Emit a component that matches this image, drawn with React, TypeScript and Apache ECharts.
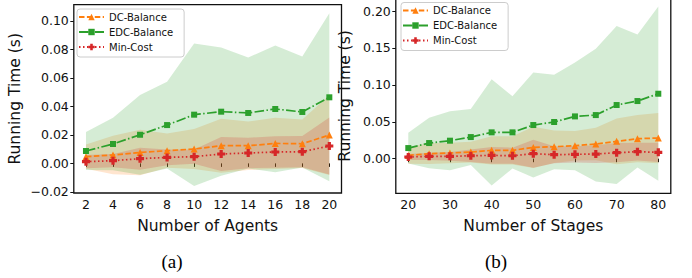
import React, { useEffect, useRef } from "react";
import * as echarts from "echarts";

// ---- data (a): Number of Agents ----
const agents = [2, 4, 6, 8, 10, 12, 14, 16, 18, 20];
const dcAgents = [0.0047, 0.0059, 0.0077, 0.0089, 0.0101, 0.0124, 0.0124, 0.014, 0.0138, 0.0199];
const dcAgentsStd = [0.0085, 0.0135, 0.016, 0.012, 0.014, 0.019, 0.017, 0.018, 0.017, 0.028];
const edcAgents = [0.0087, 0.0136, 0.0201, 0.0269, 0.0342, 0.0363, 0.0354, 0.0382, 0.0361, 0.0464];
const edcAgentsStd = [0.0134, 0.0184, 0.028, 0.0305, 0.05, 0.045, 0.039, 0.0445, 0.039, 0.059];
const mcAgents = [0.0012, 0.0019, 0.0033, 0.0042, 0.0047, 0.0066, 0.0073, 0.008, 0.0082, 0.0122];
const mcAgentsStd = [0.0047, 0.0047, 0.0077, 0.0056, 0.005, 0.012, 0.0107, 0.011, 0.011, 0.02];
const xTicksA = [2, 4, 6, 8, 10, 12, 14, 16, 18, 20];
const yTicksA = [-0.02, 0, 0.02, 0.04, 0.06, 0.08, 0.1];

// ---- data (b): Number of Stages ----
const stages = [20, 25, 30, 35, 40, 45, 50, 55, 60, 65, 70, 75, 80];
const dcStages = [0.0045, 0.0068, 0.0077, 0.009, 0.0113, 0.0113, 0.0153, 0.0163, 0.0176, 0.0199, 0.0235, 0.0271, 0.028];
const dcStagesStd = [0.0115, 0.014, 0.014, 0.014, 0.019, 0.019, 0.028, 0.022, 0.02, 0.022, 0.031, 0.032, 0.034];
const edcStages = [0.0144, 0.0212, 0.0244, 0.0293, 0.0357, 0.0357, 0.0456, 0.0497, 0.0573, 0.0591, 0.0727, 0.0781, 0.088];
const edcStagesStd = [0.0208, 0.0343, 0.04, 0.038, 0.072, 0.049, 0.071, 0.064, 0.073, 0.09, 0.107, 0.09, 0.118];
const mcStages = [0.0023, 0.0032, 0.0032, 0.004, 0.0045, 0.004, 0.0068, 0.0054, 0.0059, 0.0063, 0.0081, 0.0095, 0.0086];
const mcStagesStd = [0.004, 0.005, 0.006, 0.0086, 0.0115, 0.011, 0.019, 0.0116, 0.011, 0.012, 0.013, 0.012, 0.013];
const xTicksB = [20, 30, 40, 50, 60, 70, 80];
const yTicksB = [0, 0.05, 0.1, 0.15, 0.2];

const seriesNames = ["DC-Balance", "EDC-Balance", "Min-Cost"];
const ORANGE = "#ff7f0e";
const GREEN = "#2ca02c";
const RED = "#d62728";
const PLUS = "path://M3,0H7V3H10V7H7V10H3V7H0V3H3Z";
const FONT = "DejaVu Sans";

function fmt(v: number) {
  const s = Math.abs(v).toFixed(2);
  return v < -1e-9 ? "\u2212" + s : s;
}

function band(g: number, xs: number[], mean: number[], std: number[], color: string) {
  return {
    type: "custom",
    xAxisIndex: g,
    yAxisIndex: g,
    silent: true,
    z: 1,
    data: xs.map((x, i) => [x, mean[i] - std[i], mean[i] + std[i]]),
    encode: { x: 0, y: [1, 2] },
    renderItem: (params: any, api: any) => {
      if (params.dataIndex !== 0) return null;
      const up = xs.map((x, i) => api.coord([x, mean[i] + std[i]]));
      const lo = xs.map((x, i) => api.coord([x, mean[i] - std[i]])).reverse();
      return {
        type: "polygon",
        shape: { points: up.concat(lo) },
        style: { fill: color, opacity: 0.2 },
      };
    },
  };
}

function line(g: number, name: string, xs: number[], ys: number[], color: string, dash: number[], symbol: string, size: number) {
  return {
    type: "line",
    name,
    xAxisIndex: g,
    yAxisIndex: g,
    z: 3,
    data: xs.map((x, i) => [x, ys[i]]),
    color,
    symbol,
    symbolSize: size,
    showSymbol: true,
    itemStyle: { color, borderWidth: 0 },
    lineStyle: { color, width: 1.7, type: dash },
  };
}

function chartSeries(g: number, xs: number[], dc: number[], dcs: number[], edc: number[], edcs: number[], mc: number[], mcs: number[]) {
  return [
    band(g, xs, dc, dcs, ORANGE),
    band(g, xs, edc, edcs, GREEN),
    band(g, xs, mc, mcs, RED),
    line(g, seriesNames[0], xs, dc, ORANGE, [5.5, 2.4], "triangle", 7),
    line(g, seriesNames[1], xs, edc, GREEN, [9.6, 2.4, 1.5, 2.4], "rect", 6),
    line(g, seriesNames[2], xs, mc, RED, [1.5, 2.5], PLUS, 8),
  ];
}

function xAxis(g: number, min: number, max: number, ticks: number[], name: string) {
  return {
    type: "value",
    gridIndex: g,
    min,
    max,
    name,
    nameLocation: "middle",
    nameGap: 25,
    nameTextStyle: { fontSize: 15.5, color: "#111", fontFamily: FONT },
    axisLine: { show: false },
    splitLine: { show: false },
    axisTick: { show: true, length: 3.5, lineStyle: { color: "#111", width: 1 }, customValues: ticks },
    axisLabel: { fontSize: 12.5, color: "#111", fontFamily: FONT, margin: 5, customValues: ticks, formatter: (v: number) => String(v) },
  };
}

function yAxis(g: number, min: number, max: number, ticks: number[], nameGap: number) {
  return {
    type: "value",
    gridIndex: g,
    min,
    max,
    name: "Running Time (s)",
    nameLocation: "middle",
    nameGap,
    nameTextStyle: { fontSize: 15.5, color: "#111", fontFamily: FONT },
    axisLine: { show: false },
    splitLine: { show: false },
    axisTick: { show: true, length: 3.5, lineStyle: { color: "#111", width: 1 }, customValues: ticks },
    axisLabel: { fontSize: 12.5, color: "#111", fontFamily: FONT, margin: 5, customValues: ticks, formatter: fmt },
  };
}

function legend(left: number, top: number) {
  return {
    left,
    top,
    orient: "vertical",
    data: seriesNames,
    itemWidth: 25,
    itemHeight: 8,
    itemGap: 5,
    padding: [3, 11, 5, 1],
    borderColor: "#cccccc",
    borderWidth: 1,
    borderRadius: 3,
    backgroundColor: "rgba(255,255,255,0.8)",
    textStyle: { fontSize: 10, color: "#111", fontFamily: FONT },
    selectedMode: false,
  };
}

export default function App() {
  const ref = useRef<HTMLDivElement>(null);
  useEffect(() => {
    if (!ref.current) return;
    const chart = echarts.init(ref.current, undefined, { renderer: "svg" });
    chart.setOption({
      animation: false,
      backgroundColor: "#ffffff",
      grid: [
        { left: 73.8, top: 4.6, width: 267.7, height: 188.4, show: true, borderColor: "#111", borderWidth: 1.3, backgroundColor: "transparent", outerBoundsMode: "none" },
        { left: 395.8, top: -1.5, width: 275, height: 194.9, show: true, borderColor: "#111", borderWidth: 1.3, backgroundColor: "transparent", outerBoundsMode: "none" },
      ],
      xAxis: [
        xAxis(0, 1.1, 20.9, xTicksA, "Number of Agents"),
        xAxis(1, 17, 83, xTicksB, "Number of Stages"),
      ],
      yAxis: [
        yAxis(0, -0.0208, 0.1115, yTicksA, 51),
        yAxis(1, -0.047, 0.217, yTicksB, 43),
      ],
      legend: [legend(77, 9), legend(401, 2.5)],
      series: [
        ...chartSeries(0, agents, dcAgents, dcAgentsStd, edcAgents, edcAgentsStd, mcAgents, mcAgentsStd),
        ...chartSeries(1, stages, dcStages, dcStagesStd, edcStages, edcStagesStd, mcStages, mcStagesStd),
      ],
      graphic: [
        { type: "text", x: 172, y: 261, style: { text: "(a)", fontSize: 19, fontFamily: "Liberation Serif", fill: "#000", align: "center", verticalAlign: "middle" } },
        { type: "text", x: 496, y: 261, style: { text: "(b)", fontSize: 19, fontFamily: "Liberation Serif", fill: "#000", align: "center", verticalAlign: "middle" } },
      ],
    });
    return () => chart.dispose();
  }, []);
  return <div ref={ref} style={{ position: "fixed", left: 0, top: 0, width: 692, height: 278 }} />;
}
